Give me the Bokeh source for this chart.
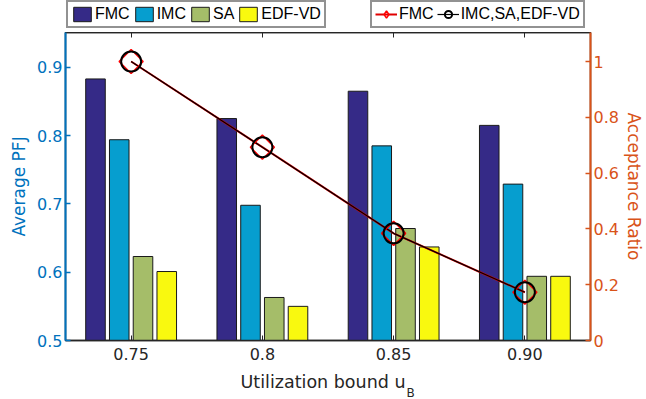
import numpy as np
from bokeh.plotting import figure
from bokeh.layouts import column
from bokeh.models import (Range1d, LinearAxis, FixedTicker, Legend, LegendItem,
                          Label, ColumnDataSource)
from bokeh.transform import dodge
from bokeh.embed import file_html
from bokeh.resources import INLINE

# ---- data ----
groups = [1, 2, 3, 4]
group_labels = ["0.75", "0.8", "0.85", "0.90"]
fmc = [0.883, 0.825, 0.865, 0.815]
imc = [0.794, 0.698, 0.785, 0.729]
sa = [0.623, 0.563, 0.664, 0.594]
edf = [0.601, 0.550, 0.637, 0.594]
acc_fmc = [1.0, 0.693, 0.384, 0.173]
acc_others = [1.0, 0.693, 0.384, 0.173]
left_ticks = [0.5, 0.6, 0.7, 0.8, 0.9]
right_ticks = [0, 0.2, 0.4, 0.6, 0.8, 1]

FONT = "Liberation Sans"
TFONT = "DejaVu Sans"
DARK = "#262626"
BLUE = "#0072bd"
ORANGE = "#d95319"
bar_colors = ["#352a87", "#069ecf", "#a5bd69", "#f9f90f"]
bar_fields = ["fmc", "imc", "sa", "edf"]
bar_names = ["FMC", "IMC", "SA", "EDF-VD"]

src = ColumnDataSource(dict(x=groups, fmc=fmc, imc=imc, sa=sa, edf=edf))

W = 646
TOP_H = 32
BOT_H = 31
MAIN_H = 399 - TOP_H - BOT_H


def add_series(fig, legend_mode=False):
    bw = 0.149
    pitch = 0.181
    bars = []
    for i, (f, c) in enumerate(zip(bar_fields, bar_colors)):
        r = fig.vbar(x=dodge("x", (i - 1.5) * pitch, range=fig.x_range), top=f,
                     bottom=0.5, width=bw, source=src, fill_color=c,
                     line_color="#1a1a1a", line_width=1)
        bars.append(r)
    kw = dict(y_range_name="acc") if "acc" in fig.extra_y_ranges else {}
    lr = fig.line(groups, acc_fmc, line_color="#e00000", line_width=2, **kw)
    lb = fig.line(groups, acc_others, line_color="black", line_width=1.2, **kw)
    if legend_mode:
        sr = fig.scatter(groups, acc_fmc, marker="diamond", size=20,
                         fill_color=None, line_color="#ff0000", line_width=1.5, **kw)
    else:
        sr = fig.scatter(groups, acc_fmc, marker="square", angle=np.pi / 4, size=17,
                         fill_color=None, line_color="#ff0000", line_width=1.5, **kw)
    sb = fig.scatter(groups, acc_others, marker="circle", size=20, fill_color=None,
                     line_color="black", line_width=2, **kw)
    return bars, lr, lb, sr, sb


# ================= main figure =================
p = figure(width=W, height=MAIN_H, output_backend="svg", toolbar_location=None,
           x_range=Range1d(0.5, 4.5), y_range=Range1d(0.5, 0.951),
           min_border_left=65, min_border_right=56, min_border_top=0,
           min_border_bottom=28)
p.extra_y_ranges = {"acc": Range1d(0, 1.104)}
p.xgrid.visible = False
p.ygrid.visible = False
p.outline_line_color = DARK
p.outline_line_width = 1.5
add_series(p)

xa = p.xaxis[0]
xa.ticker = FixedTicker(ticks=groups)
xa.major_label_overrides = {g: l for g, l in zip(groups, group_labels)}
xa.major_tick_in = 5
xa.major_tick_out = 0
xa.minor_tick_line_color = None
xa.axis_line_color = DARK
xa.axis_line_width = 1.5
xa.major_tick_line_color = DARK
xa.major_label_text_color = DARK
xa.major_label_text_font = TFONT
xa.major_label_text_font_size = "16px"
xa.major_label_standoff = 7

ya = p.yaxis[0]
ya.ticker = FixedTicker(ticks=left_ticks)
ya.major_tick_in = 5
ya.major_tick_out = 0
ya.minor_tick_line_color = None
ya.axis_line_color = BLUE
ya.axis_line_width = 2
ya.major_tick_line_color = BLUE
ya.major_tick_line_width = 1.5
ya.major_label_text_color = BLUE
ya.major_label_text_font = TFONT
ya.major_label_text_font_size = "16px"
ya.major_label_standoff = 3
ya.axis_label = "Average PFJ"
ya.axis_label_text_color = BLUE
ya.axis_label_text_font = TFONT
ya.axis_label_text_font_size = "17px"
ya.axis_label_text_font_style = "normal"
ya.axis_label_standoff = 5

ra = LinearAxis(y_range_name="acc", ticker=FixedTicker(ticks=right_ticks))
ra.major_label_overrides = {0: "0", 1: "1"}
ra.major_tick_in = 5
ra.major_tick_out = 0
ra.minor_tick_line_color = None
ra.axis_line_color = ORANGE
ra.axis_line_width = 2
ra.major_tick_line_color = ORANGE
ra.major_tick_line_width = 1.5
ra.major_label_text_color = ORANGE
ra.major_label_text_font = TFONT
ra.major_label_text_font_size = "16px"
ra.major_label_standoff = 3
ra.axis_label = "Acceptance Ratio"
ra.axis_label_text_color = ORANGE
ra.axis_label_text_font = TFONT
ra.axis_label_text_font_size = "17px"
ra.axis_label_text_font_style = "normal"
ra.axis_label_standoff = 2
p.add_layout(ra, "right")

ta = LinearAxis(ticker=FixedTicker(ticks=groups))
ta.major_label_overrides = {g: "" for g in groups}
ta.major_label_text_font_size = "1px"
ta.major_label_standoff = 0
ta.major_tick_in = 5
ta.major_tick_out = 0
ta.minor_tick_line_color = None
ta.axis_line_color = DARK
ta.axis_line_width = 1.5
ta.major_tick_line_color = DARK
p.add_layout(ta, "above")

# ================= legend strip (top) =================
# (frames in the column are aligned with the main plot's frame)
t = figure(width=W, height=TOP_H, output_backend="svg", toolbar_location=None,
           x_range=Range1d(100, 101), y_range=Range1d(100, 101),
           x_axis_type=None, y_axis_type=None,
           min_border_left=65, min_border_right=56, min_border_top=0,
           min_border_bottom=0)
t.xgrid.visible = False
t.ygrid.visible = False
t.outline_line_color = None
tbars, tlr, tlb, tsr, tsb = add_series(t, legend_mode=True)

leg_common = dict(orientation="horizontal", glyph_width=22, glyph_height=18,
                  label_height=16, label_width=10, label_standoff=2, spacing=3,
                  padding=3, margin=0, label_text_font=FONT,
                  label_text_font_size="16px", label_text_color="black",
                  border_line_color=DARK, border_line_width=2,
                  background_fill_alpha=1)
leg1 = Legend(items=[LegendItem(label=n, renderers=[r]) for n, r in zip(bar_names, tbars)],
              location=(1, 4), **leg_common)
leg2 = Legend(items=[LegendItem(label="FMC", renderers=[tlr, tsr]),
                     LegendItem(label="IMC,SA,EDF-VD", renderers=[tlb, tsb])],
              location=(305, 4), **leg_common)
t.add_layout(leg1)
t.add_layout(leg2)

# ================= x label strip (bottom) =================
b = figure(width=W, height=BOT_H, output_backend="svg", toolbar_location=None,
           x_range=Range1d(0, 1), y_range=Range1d(0, 1),
           x_axis_type=None, y_axis_type=None,
           min_border_left=65, min_border_right=56, min_border_top=0,
           min_border_bottom=0)
b.xgrid.visible = False
b.ygrid.visible = False
b.outline_line_color = None
b.add_layout(Label(x=340, y=18, x_units="screen", y_units="screen",
                   text="Utilization bound u", text_align="right",
                   text_baseline="middle", text_font=TFONT, text_font_size="17.5px",
                   text_color=DARK))
b.add_layout(Label(x=341, y=7, x_units="screen", y_units="screen",
                   text="B", text_align="left", text_baseline="middle",
                   text_font=TFONT, text_font_size="12px", text_color=DARK))

layout = column(t, p, b, spacing=0)
open("out.html", "w").write(file_html(layout, INLINE))
